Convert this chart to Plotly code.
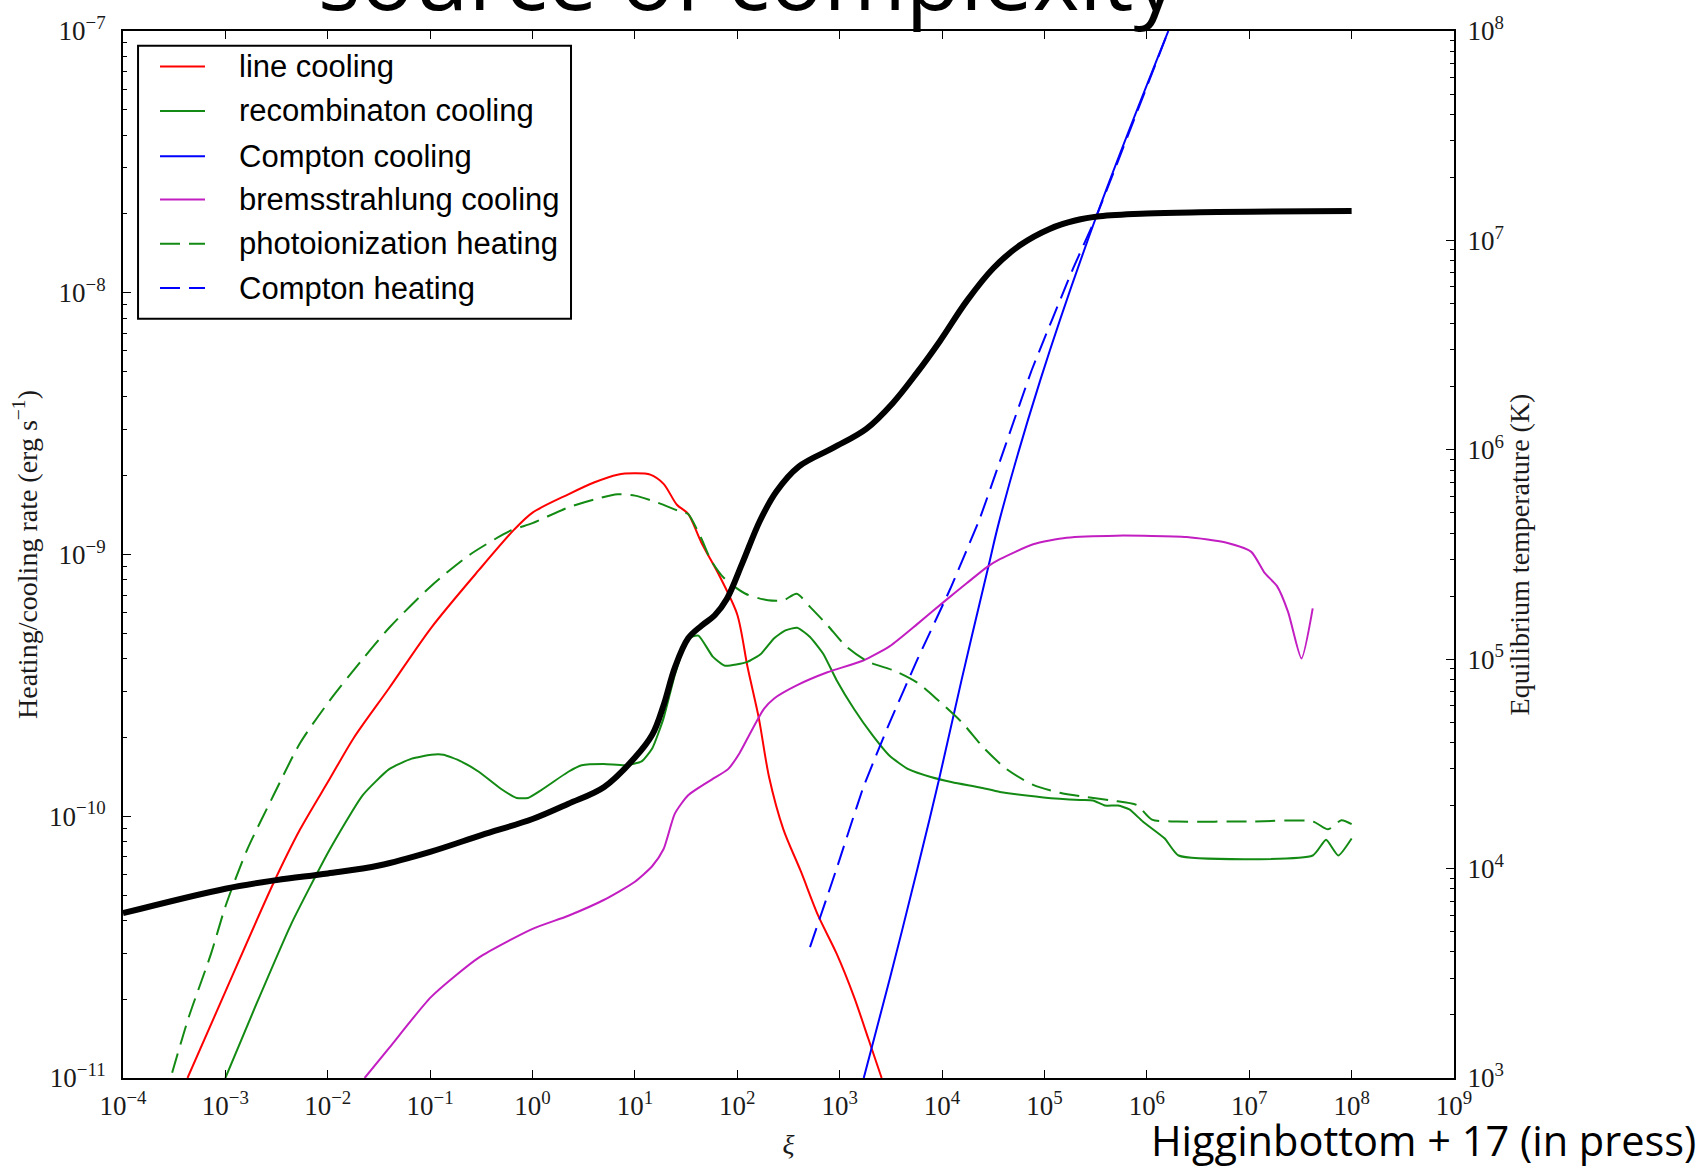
import numpy as np
import plotly.graph_objects as go

# ---- data: log10(xi) and log10(rate [erg s^-1]) for each process ----
line_lx = [-3.37, -3.0, -2.53, -2.27, -1.985, -1.745, -1.40, -0.99, -0.525, -0.18, 0.0, 0.35, 0.6,
           0.83, 1.0, 1.15, 1.28, 1.41, 1.52, 1.65, 1.83, 2.0, 2.10, 2.21, 2.31, 2.45, 2.62, 2.79,
           2.97, 3.14, 3.28, 3.41]
line_ly = [-11.0, -10.67, -10.255, -10.05, -9.86, -9.70, -9.51, -9.28, -9.06, -8.905, -8.84, -8.77,
           -8.725, -8.695, -8.69, -8.695, -8.73, -8.81, -8.845, -8.955, -9.085, -9.23, -9.43, -9.625,
           -9.85, -10.05, -10.21, -10.38, -10.525, -10.69, -10.85, -11.0]

recomb_lx = [-3.0, -2.70, -2.355, -1.985, -1.66, -1.40, -1.18, -0.99, -0.87, -0.70, -0.525, -0.31,
             -0.155, -0.045, 0.085, 0.35, 0.48, 0.695, 0.91, 1.065, 1.17, 1.28, 1.39, 1.52, 1.62,
             1.76, 1.88, 2.10, 2.23, 2.36, 2.47, 2.585, 2.71, 2.84, 2.97, 3.14, 3.32, 3.49, 3.67,
             3.89, 4.10, 4.37, 4.565, 4.99, 5.35, 5.475, 5.59, 5.72, 5.83, 5.96, 6.175, 6.31, 7.62,
             7.75, 7.87, 8.0]
recomb_ly = [-11.0, -10.72, -10.41, -10.13, -9.92, -9.82, -9.78, -9.765, -9.765, -9.79, -9.83, -9.895,
             -9.93, -9.93, -9.90, -9.83, -9.805, -9.80, -9.805, -9.79, -9.74, -9.625, -9.46, -9.32,
             -9.31, -9.39, -9.425, -9.41, -9.38, -9.32, -9.29, -9.28, -9.315, -9.38, -9.48, -9.59,
             -9.69, -9.77, -9.82, -9.85, -9.87, -9.89, -9.907, -9.928, -9.938, -9.940, -9.959,
             -9.959, -9.974, -10.02, -10.085, -10.15, -10.15, -10.09, -10.15, -10.085]

compcool_lx = [3.235, 3.49, 3.76, 3.97, 4.19, 4.45, 4.566, 4.96, 5.51, 6.21]
compcool_ly = [-11.0, -10.62, -10.20, -9.86, -9.48, -9.05, -8.861, -8.333, -7.705, -7.0]

brems_lx = [-1.64, -1.40, -0.99, -0.525, 0.0, 0.35, 0.695, 1.0, 1.17, 1.28, 1.39, 1.52, 1.75, 1.91,
            2.02, 2.13, 2.26, 2.36, 2.58, 2.88, 3.23, 3.49, 3.76, 4.02, 4.24, 4.435, 4.565, 4.89,
            5.215, 5.70, 6.39, 6.78, 7.02, 7.15, 7.27, 7.38, 7.51, 7.62]
brems_ly = [-11.0, -10.885, -10.69, -10.54, -10.43, -10.38, -10.32, -10.25, -10.19, -10.125, -9.99,
            -9.92, -9.86, -9.82, -9.76, -9.68, -9.59, -9.55, -9.50, -9.45, -9.405, -9.35, -9.265,
            -9.18, -9.11, -9.049, -9.018, -8.961, -8.936, -8.928, -8.933, -8.955, -8.99, -9.07,
            -9.12, -9.22, -9.397, -9.206]

photo_lx = [-3.52, -3.36, -3.14, -3.0, -2.79, -2.53, -2.27, -1.985, -1.66, -1.40, -0.99, -0.61,
            -0.22, 0.0, 0.35, 0.6, 0.83, 1.0, 1.21, 1.47, 1.52, 1.65, 1.74, 1.87, 2.08, 2.3, 2.45,
            2.58, 2.71, 2.88, 3.06, 3.28, 3.54, 3.76, 3.97, 4.19, 4.41, 4.63, 4.89, 5.15, 5.41,
            5.66, 5.90, 6.05, 6.3, 7.0, 7.62, 7.77, 7.90, 8.0]
photo_ly = [-10.98, -10.77, -10.525, -10.345, -10.13, -9.92, -9.72, -9.56, -9.40, -9.28, -9.12, -9.00,
            -8.91, -8.88, -8.82, -8.79, -8.77, -8.775, -8.80, -8.84, -8.845, -8.94, -9.02, -9.09,
            -9.15, -9.175, -9.175, -9.15, -9.20, -9.27, -9.35, -9.41, -9.445, -9.49, -9.56, -9.64,
            -9.74, -9.82, -9.88, -9.91, -9.927, -9.94, -9.957, -10.013, -10.02, -10.02, -10.02,
            -10.05, -10.015, -10.03]

compheat_lx = [2.71, 2.97, 3.23, 3.49, 3.76, 4.08, 4.37, 4.875, 5.28, 5.51, 6.21]
compheat_ly = [-10.50, -10.20, -9.89, -9.64, -9.40, -9.131, -8.861, -8.296, -7.907, -7.705, -7.0]

# equilibrium temperature: log10(xi), log10(T [K])
temp_lx = [-4.0, -3.0, -2.5, -2.0, -1.5, -1.0, -0.5, 0.0, 0.35, 0.7, 1.0, 1.17, 1.28, 1.39, 1.52,
           1.65, 1.78, 1.9, 2.05, 2.22, 2.38, 2.6, 2.94, 3.26, 3.52, 3.75, 3.98, 4.24, 4.50, 4.76,
           5.05, 5.3, 5.54, 6.0, 6.52, 7.0, 8.0]
temp_lt = [3.787, 3.904, 3.945, 3.977, 4.015, 4.08, 4.16, 4.237, 4.31, 4.39, 4.53, 4.64, 4.78, 4.96,
           5.10, 5.16, 5.21, 5.29, 5.46, 5.66, 5.80, 5.92, 6.01, 6.10, 6.224, 6.365, 6.52, 6.71,
           6.867, 6.977, 7.055, 7.095, 7.115, 7.128, 7.134, 7.137, 7.14]

x_exps = list(range(-4, 10))
rate_exps = list(range(-11, -6))
temp_exps = list(range(3, 9))

GREEN = "#138a13"
DASH = "20px,9px"

# name, x, y, colour, dash, spline smoothing
series = [
    ("line cooling", line_lx, line_ly, "#ff0000", "solid", 0.8),
    ("recombinaton cooling", recomb_lx, recomb_ly, GREEN, "solid", 0.5),
    ("Compton cooling", compcool_lx, compcool_ly, "#0000ff", "solid", 1.0),
    ("bremsstrahlung cooling", brems_lx, brems_ly, "#c21ec2", "solid", 0.6),
    ("photoionization heating", photo_lx, photo_ly, GREEN, DASH, 0.7),
    ("Compton heating", compheat_lx, compheat_ly, "#0000ff", DASH, 0.3),
]


def pow10_label(e):
    return "10<sup>" + (str(e) if e >= 0 else "\u2212" + str(-e)) + "</sup>"


def minor_vals(exps):
    return [k * 10.0 ** e for e in exps[:-1] for k in range(2, 10)]


fig = go.Figure()

for name, lx, ly, color, dash, smooth in series:
    fig.add_trace(go.Scatter(
        x=10.0 ** np.array(lx), y=10.0 ** np.array(ly), mode="lines", name=name,
        showlegend=False,
        line=dict(color=color, width=2, dash=dash, shape="spline", smoothing=smooth),
    ))

fig.add_trace(go.Scatter(
    x=10.0 ** np.array(temp_lx), y=10.0 ** np.array(temp_lt), mode="lines",
    name="Equilibrium temperature", showlegend=False, yaxis="y2",
    line=dict(color="black", width=6, shape="spline", smoothing=1.0),
))

# ---- framed key in the upper-left corner (paper coordinates) ----
key_left, key_right, key_top, key_bottom = 0.0113, 0.3366, 0.9859, 0.7251
key_rows = [0.9660, 0.9236, 0.8803, 0.8390, 0.7967, 0.7545]
sample_x0, sample_x1, text_x = 0.0278, 0.0616, 0.0857

shapes = [dict(type="rect", xref="paper", yref="paper", x0=key_left, x1=key_right,
               y0=key_bottom, y1=key_top, fillcolor="white", layer="above",
               line=dict(color="black", width=2))]
annotations = []
for (name, _, _, color, dash, _), yrow in zip(series, key_rows):
    shapes.append(dict(type="line", xref="paper", yref="paper", x0=sample_x0, x1=sample_x1,
                       y0=yrow, y1=yrow, layer="above", line=dict(color=color, width=2, dash=dash)))
    annotations.append(dict(text=name, xref="paper", yref="paper", x=text_x, y=yrow,
                            xanchor="left", yanchor="middle", showarrow=False,
                            font=dict(family="Liberation Sans", size=31, color="black")))

annotations += [
    dict(text="source of complexity", xref="paper", yref="paper", x=0.4696, y=0.9934,
         xanchor="center", yanchor="bottom", showarrow=False,
         font=dict(family="Open Sans", size=89, color="black")),
    dict(text="Higginbottom + 17 (in press)", xref="paper", yref="paper", x=1.1833, y=-0.0593,
         xanchor="right", yanchor="middle", showarrow=False,
         font=dict(family="Open Sans", size=41.5, color="black")),
]

tick_font = dict(family="Liberation Serif", size=27, color="#1a1a1a")
title_font = dict(family="Liberation Serif", size=28, color="#1a1a1a")

fig.update_layout(
    width=1707, height=1167, autosize=False,
    margin=dict(l=123, r=253, t=26, b=79, pad=0),
    paper_bgcolor="white", plot_bgcolor="white",
    showlegend=False,
    shapes=shapes,
    annotations=annotations,
    xaxis=dict(
        type="log", range=[-4, 9],
        tickmode="array", tickvals=[10.0 ** e for e in x_exps],
        ticktext=[pow10_label(e) for e in x_exps],
        ticks="inside", ticklen=8, tickwidth=1, tickcolor="black",
        showline=True, linecolor="black", linewidth=2, mirror="ticks",
        showgrid=False, zeroline=False, tickfont=tick_font, ticklabelstandoff=3,
        title=dict(text="<i>\u03be</i>", font=dict(family="Liberation Serif", size=28, color="#1a1a1a"),
                   standoff=14),
    ),
    yaxis=dict(
        type="log", range=[-11, -7],
        tickmode="array", tickvals=[10.0 ** e for e in rate_exps],
        ticktext=[pow10_label(e) for e in rate_exps],
        ticks="inside", ticklen=8, tickwidth=1, tickcolor="black",
        minor=dict(tickmode="array", tickvals=minor_vals(rate_exps), ticks="inside",
                   ticklen=4, tickwidth=1, tickcolor="black", showgrid=False),
        showline=True, linecolor="black", linewidth=2,
        showgrid=False, zeroline=False, tickfont=tick_font, ticklabelstandoff=10,
        title=dict(text="Heating/cooling rate (erg s<sup>\u22121</sup>)", font=title_font, standoff=3),
    ),
    yaxis2=dict(
        type="log", range=[3, 8], overlaying="y", side="right",
        tickmode="array", tickvals=[10.0 ** e for e in temp_exps],
        ticktext=[pow10_label(e) for e in temp_exps],
        ticks="inside", ticklen=8, tickwidth=1, tickcolor="black",
        minor=dict(tickmode="array", tickvals=minor_vals(temp_exps), ticks="inside",
                   ticklen=4, tickwidth=1, tickcolor="black", showgrid=False),
        showline=True, linecolor="black", linewidth=2,
        showgrid=False, zeroline=False, tickfont=tick_font, ticklabelstandoff=6,
        title=dict(text="Equilibrium temperature (K)", font=title_font, standoff=4),
    ),
)

fig.write_html("out.html")
